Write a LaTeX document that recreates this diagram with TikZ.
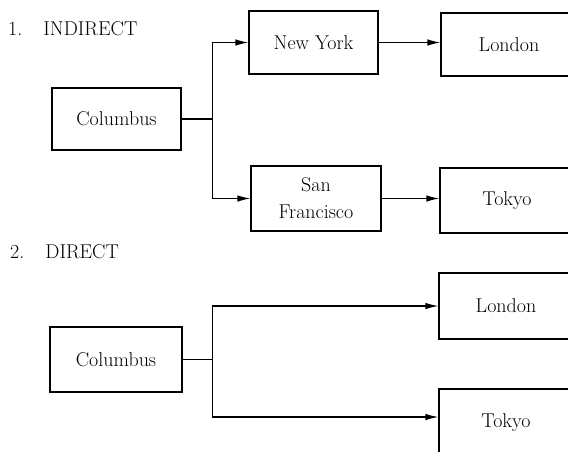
\documentclass[tikz,border=0pt]{standalone}
\usepackage{fontspec}
\usetikzlibrary{arrows.meta}
\tikzset{
  box/.style={draw, line width=1.2pt, inner sep=0pt, align=center, font=\fontsize{20}{27}\selectfont},
  conn/.style={line width=1.2pt},
  arr/.style={conn, -{Latex[length=13pt,width=6.5pt]}},
  head/.style={anchor=base west, inner sep=0pt, font=\fontsize{20}{24}\selectfont}
}
\begin{document}
\begin{tikzpicture}[x=1pt,y=-1pt]
\useasboundingbox (0,0) rectangle (568,451);
\clip (0,0) rectangle (568,451);
\fill[white] (0,0) rectangle (568,451);
% headings
\node[head] (h1) at (8,35) {1.\hspace{1.05em}INDIRECT};
\node[head] (h2) at (10,258) {2.\hspace{1.05em}DIRECT};
% part 1
\node[box, minimum width=129pt, minimum height=62pt] (c1) at (116.5,119) {Columbus};
\node[box, minimum width=129pt, minimum height=63pt] (ny) at (313.5,42.5) {New York};
\node[box, minimum width=130pt, minimum height=65pt] (sf) at (316,198.5) {San\\Francisco};
\node[box, minimum width=136pt, minimum height=63pt] (lon1) at (509,44.5) {London};
\node[box, minimum width=134pt, minimum height=65pt] (tok1) at (507,200.5) {Tokyo};
\draw[conn] (c1.east) -- ++(31,0) coordinate (j1);
\draw[arr] (j1) |- (ny.west);
\draw[arr] (j1) |- (sf.west);
\draw[arr] (ny.east) -- (ny.east -| lon1.west);
\draw[arr] (sf.east) -- (sf.east -| tok1.west);
% part 2
\node[box, minimum width=132pt, minimum height=65pt] (c2) at (116,359.5) {Columbus};
\node[box, minimum width=134pt, minimum height=66pt] (lon2) at (506,306) {London};
\node[box, minimum width=134pt, minimum height=68pt] (tok2) at (506,423) {Tokyo};
\draw[conn] (c2.east) -- ++(30,0) coordinate (j2);
\draw[arr] (j2) |- (lon2.west);
\draw[arr] (j2) |- ([yshift=6pt]tok2.west);
\end{tikzpicture}
\end{document}
